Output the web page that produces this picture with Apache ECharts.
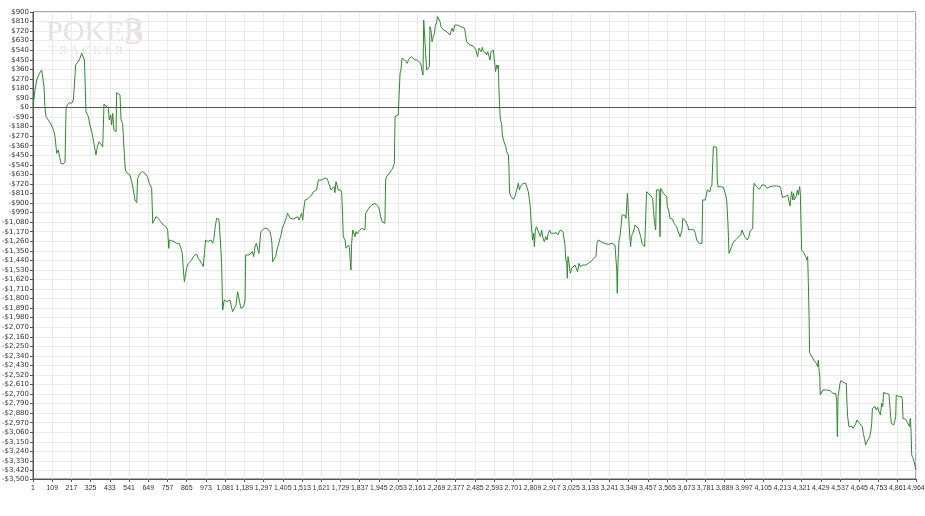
<!DOCTYPE html>
<html>
<head>
<meta charset="utf-8">
<script src="https://cdn.jsdelivr.net/npm/echarts@6/dist/echarts.min.js"></script>
<style>
html,body{margin:0;padding:0;background:#fff;}
#chart{width:925px;height:516px;}
</style>
</head>
<body>
<div id="chart"></div>
<script>
// Hand numbers (x) and cumulative winnings in $ (y)
var hands = [
1,7,12,22,37,50,59,63,68,74,87,100,112,119,125,134,143,153,158,172,181,187,194,205,218,228,237,241,250,261,269,275,284,290,299,312,321,331,340,350,355,363,372,381,393,400,411,424,430,438,443,449,456,468,471,481,490,496,505,513,520,531,546,556,565,574,584,589,602,617,631,644,655,668,674,683,692,705,719,734,749,758,764,767,780,794,809,
822,833,840,846,852,859,867,874,883,893,902,912,921,930,940,949,958,964,971,983,990,1001,1011,1018,1024,1033,1046,1054,1061,1067,1076,1084,1091,1099,1108,1118,1123,1133,1142,1151,1159,1164,1170,1178,1185,1193,1196,1204,1215,1226,1234,1241,1249,1256,1264,1271,1277,1282,1290,1301,1309,1316,1324,1333,1339,1344,1348,1357,1365,1372,1380,1387,1395,1402,1410,1417,1427,1432,1440,1447,1455,1466,1477,1489,1496,1504,1511,1517,1522,1530,1539,1549,1558,1567,1577,1586,1595,1605,1614,1623,1638,
1652,1661,1670,1676,1685,1693,1698,1704,1712,1717,1723,1730,1736,1740,1745,1755,1760,1768,1775,1779,1785,1788,1792,1798,1805,1811,1816,1824,1831,1839,1848,1858,1867,1871,1880,1888,1895,1905,1914,1923,1933,1942,1948,1955,1963,1974,1979,1983,1989,1996,2004,2011,2019,2026,2032,2036,2045,2054,2060,2064,2069,2075,2083,2090,2098,2105,2112,2120,2129,2139,2146,2154,2161,2169,2176,2182,2187,2193,2197,2204,2210,2214,2223,2229,2232,2238,2244,2247,2251,2257,2262,2270,2275,2283,2289,2294,2302,2309,2317,2326,2335,2345,2350,2356,2364,2371,2379,2386,2397,2405,2416,2427,2435,2438,2448,2457,
2467,2476,2482,2489,2495,2500,2504,2508,2513,2519,2527,2532,2538,2545,2551,2557,2564,2570,2575,2579,2588,2594,2601,2607,2613,2616,2620,2624,2628,2635,2639,2645,2650,2658,2663,2669,2673,2676,2680,2688,2695,2701,2710,2720,2729,2735,2740,2748,2755,2763,2770,2778,2785,2793,2796,2800,2804,2809,2815,2819,2824,2830,2838,2845,2853,2860,2868,2875,2883,2890,2897,2905,2912,2920,2927,2935,2942,2950,2957,2965,2972,2980,2987,2991,2995,3001,3004,3008,3014,3021,3029,3038,3047,3057,3062,3070,3077,3085,3092,3100,3107,3115,3122,3130,3137,3145,3152,3160,3165,3171,3179,3186,3194,3201,3212,3223,3235,3246,3257,
3272,3278,3282,3285,3289,3295,3300,3306,3312,3319,3327,3334,3338,3342,3345,3349,3353,3360,3364,3372,3379,3385,3394,3403,3409,3417,3424,3431,3439,3446,3450,3460,3469,3476,3484,3488,3495,3501,3505,3510,3516,3521,3525,3529,3535,3544,3553,3563,3566,3574,3581,3589,3596,3604,3611,3619,3624,3630,3638,3643,3649,3653,3660,3668,3675,3683,3686,3694,3701,3709,3716,3724,3731,3739,3746,3754,3761,3765,3772,3780,3787,3791,3799,3802,3806,3810,3817,3821,3825,3836,3844,3847,3851,3859,3866,3874,3881,3889,3892,3900,3907,3913,3922,3928,3934,3941,3949,3956,3964,3971,3979,3986,3994,4001,4009,4016,4024,4031,4039,4046,4050,4054,4061,4068,4076,4083,4091,4098,4106,4113,4121,4128,4136,
4143,4153,4162,4172,4181,4190,4200,4205,4213,4220,4228,4235,4243,4250,4256,4261,4265,4271,4276,4280,4284,4291,4297,4303,4310,4314,4318,4321,4329,4336,4344,4348,4351,4355,4359,4363,4366,4374,4381,4389,4396,4404,4411,4415,4419,4423,4426,4434,4441,4449,4460,4471,4482,4490,4497,4505,4512,4518,4522,4526,4531,4537,4542,4550,4557,4565,4572,4576,4580,4587,4595,4602,4610,4617,4625,4632,4640,4647,4655,4662,4668,4674,4681,4689,4696,4704,4711,4715,4719,4726,4734,4741,4749,4756,4764,4771,4777,4782,4790,4797,4805,4812,4820,4825,4831,4839,4846,4850,4853,4861,4868,4876,4883,4887,4891,4898,4906,4913,4921,4928,4932,4936,4940,4945,4951,4964
];
var profit = [
30,87,165,259,322,353,338,196,8,-86,-117,-149,-196,-227,-275,-432,-400,-416,-526,-532,-510,-8,24,46,39,71,87,401,416,448,432,511,511,448,-39,-86,-165,-227,-306,-322,-447,-369,-322,-338,-369,33,24,-7,-117,-70,-165,-55,-212,-227,140,134,118,-117,-149,-400,-589,-620,-636,-699,-777,-871,-896,-667,-620,-604,-620,-652,-714,-761,-1091,-1060,-1028,-1044,-1075,-1107,-1123,-1154,-1327,-1248,-1255,-1264,-1280,
-1279,-1327,-1374,-1531,-1641,-1562,-1499,-1468,-1484,-1437,-1405,-1405,-1380,-1421,-1405,-1468,-1499,-1499,-1248,-1264,-1279,-1248,-1279,-1232,-1138,-1044,-1053,-1248,-1468,-1908,-1813,-1813,-1829,-1845,-1813,-1892,-1923,-1908,-1861,-1735,-1719,-1845,-1892,-1908,-1876,-1813,-1389,-1374,-1389,-1405,-1358,-1405,-1311,-1279,-1295,-1374,-1248,-1170,-1154,-1138,-1123,-1138,-1138,-1170,-1217,-1279,-1452,-1452,-1405,-1342,-1295,-1248,-1201,-1138,-1107,-1091,-1028,-997,-1013,-1044,-1060,-1050,-1053,-1028,-1060,-1044,-997,-1060,-965,-871,-871,-856,-856,-824,-793,-808,-777,-683,-667,-683,-667,
-667,-698,-714,-777,-793,-746,-802,-698,-714,-777,-793,-777,-802,-966,-1217,-1248,-1326,-1311,-1295,-1317,-1468,-1531,-1280,-1154,-1185,-1217,-1170,-1192,-1170,-1154,-1138,-1138,-1154,-997,-981,-950,-934,-918,-909,-903,-918,-934,-966,-1028,-1075,-1091,-1091,-683,-651,-651,-620,-604,-582,-557,-526,-86,-70,-70,-86,322,353,464,479,448,432,416,454,463,479,463,448,432,448,432,423,401,353,306,825,809,448,353,353,385,762,730,620,605,668,699,762,809,856,840,809,762,746,730,730,715,699,683,715,746,715,777,793,777,793,762,762,746,730,620,605,589,
573,579,567,548,542,479,526,558,542,526,567,526,511,517,495,526,479,448,526,542,542,448,338,401,369,401,165,8,-117,-149,-259,-306,-322,-369,-416,-400,-447,-557,-808,-840,-856,-865,-840,-824,-714,-777,-746,-730,-714,-730,-714,-714,-793,-809,-934,-1060,-1154,-1248,-1185,-1311,-1170,-1123,-1154,-1138,-1217,-1154,-1232,-1264,-1217,-1248,-1185,-1154,-1185,-1170,-1185,-1192,-1179,-1201,-1185,-1154,-1138,-1170,-1170,-1295,-1421,-1468,-1609,-1405,-1468,-1562,-1515,-1499,-1484,-1468,-1547,-1468,-1499,-1515,-1484,-1468,-1484,-1468,-1468,-1452,-1452,-1437,-1421,-1421,-1405,-1280,-1248,-1248,-1264,-1273,-1280,-1280,-1289,-1295,-1280,
-1295,-1311,-1531,-1751,-1468,-1248,-1217,-1123,-1013,-997,-1013,-1044,-1060,-809,-802,-1028,-1154,-1311,-1217,-1185,-1154,-1107,-1123,-1138,-1154,-1217,-1280,-1295,-1311,-1305,-793,-809,-824,-840,-856,-965,-1091,-1154,-777,-771,-793,-777,-1217,-761,-783,-809,-824,-840,-934,-965,-1044,-1060,-1053,-1091,-1107,-1123,-1154,-1170,-1217,-1232,-1154,-1044,-1053,-1066,-1091,-1123,-1154,-1138,-1148,-1138,-1154,-1185,-1248,-1264,-1280,-1286,-1280,-871,-865,-871,-856,-777,-761,-777,-793,-752,-730,-714,-369,-369,-375,-683,-746,-752,-746,-752,-752,-761,-809,-871,-1091,-1374,-1380,-1311,-1280,-1264,-1248,-1232,-1223,-1232,-1201,-1154,-1170,-1217,-1201,-1248,-1217,-1170,-1154,-1138,-793,-714,-730,-746,-739,-771,-752,-730,-714,-730,-746,-761,-752,
-746,-733,-739,-730,-739,-730,-746,-771,-846,-856,-840,-846,-824,-840,-928,-840,-793,-871,-808,-871,-856,-840,-777,-824,-746,-808,-1123,-1342,-1358,-1374,-1405,-1389,-1437,-1405,-1656,-1970,-2310,-2332,-2347,-2379,-2394,-2410,-2441,-2379,-2473,-2536,-2709,-2699,-2661,-2668,-2661,-2677,-2668,-2677,-2693,-2677,-2693,-2756,-3101,-2724,-2740,-2599,-2573,-2583,-2592,-2586,-2599,-2787,-2913,-3007,-3013,-3001,-3023,-3007,-2982,-2944,-2950,-2976,-2969,-3007,-3070,-3117,-3179,-3148,-3132,-3101,-3038,-2976,-2834,-2834,-2818,-2850,-2825,-2865,-2897,-2787,-2818,-2686,-2677,-2693,-2709,-2702,-2709,-2976,-2991,-2991,-2976,-2913,-2709,-2718,-2724,-2740,-2724,-2756,-2928,-2944,-2938,-2960,-2976,-3007,-2928,-3038,-3274,-3296,-3321,-3415
];
var yTicks = [900,810,720,630,540,450,360,270,180,90,0,-90,-180,-270,-360,-450,-540,-630,-720,-810,-900,-990,-1080,-1170,-1260,-1350,-1440,-1530,-1620,-1710,-1800,-1890,-1980,-2070,-2160,-2250,-2340,-2430,-2520,-2610,-2700,-2790,-2880,-2970,-3060,-3150,-3240,-3330,-3420,-3500];
var xTicks = [1,109,217,325,433,541,649,757,865,973,1081,1189,1297,1405,1513,1621,1729,1837,1945,2053,2161,2269,2377,2485,2593,2701,2809,2917,3025,3133,3241,3349,3457,3565,3673,3781,3889,3997,4105,4213,4321,4429,4537,4645,4753,4861,4964];

function commas(n){
  var s = String(Math.round(Math.abs(n)));
  return s.replace(/\B(?=(\d{3})+(?!\d))/g, ',');
}
function money(v){
  return (v < 0 ? '-$' : '$') + commas(v);
}

var data = hands.map(function(h, i){ return [h, profit[i]]; });

var chart = echarts.init(document.getElementById('chart'), null, {renderer: 'canvas'});
var yFont = {fontFamily: 'DejaVu Sans', fontSize: 7, color: '#333'};
var xFont = {fontFamily: 'Liberation Sans', fontSize: 7, color: '#333'};
var logoColor = '#e9e1e1';
chart.setOption({
  animation: false,
  backgroundColor: '#ffffff',
  grid: {left: 33, right: 9, top: 12, bottom: 37, show: true, borderColor: '#555', borderWidth: 1, outerBoundsMode: 'none', containLabel: false},
  graphic: [
    {type: 'text', left: 46, top: 18, z: 0, style: {text: 'POKER', fontFamily: 'Liberation Serif', fontSize: 30, fill: logoColor}},
    {type: 'text', left: 124, top: 13, z: 0, style: {text: '3', fontFamily: 'Liberation Serif', fontSize: 40, fill: logoColor}},
    {type: 'text', left: 49, top: 45, z: 0, style: {text: 'T R A C K E R', fontFamily: 'Liberation Serif', fontSize: 12, fill: logoColor}}
  ],
  xAxis: {
    type: 'value', min: 1, max: 4964,
    axisLine: {show: true, onZero: false, lineStyle: {color: '#555'}},
    axisTick: {show: true, length: 3, customValues: xTicks, lineStyle: {color: '#555'}},
    axisLabel: Object.assign({customValues: xTicks, margin: 6, hideOverlap: false, showMinLabel: true, showMaxLabel: true, formatter: function(v){ return commas(v); }}, xFont),
    splitLine: {show: true, lineStyle: {color: '#ebebeb', width: 1}}
  },
  yAxis: {
    type: 'value', min: -3500, max: 900,
    axisLine: {show: true, lineStyle: {color: '#555'}},
    axisTick: {show: true, length: 3, customValues: yTicks, lineStyle: {color: '#555'}},
    axisLabel: Object.assign({customValues: yTicks, margin: 4, hideOverlap: false, showMinLabel: true, showMaxLabel: true, formatter: function(v){ return money(v); }}, yFont),
    splitLine: {show: true, lineStyle: {color: '#ebebeb', width: 1}}
  },
  series: [{
    type: 'line',
    data: data,
    showSymbol: false,
    symbol: 'none',
    lineStyle: {color: '#2f8a2f', width: 1},
    z: 3,
    markLine: {
      silent: true, symbol: 'none', label: {show: false},
      lineStyle: {color: '#555', width: 1, type: 'solid'},
      data: [{yAxis: 0}]
    }
  }]
});
</script>
</body>
</html>
